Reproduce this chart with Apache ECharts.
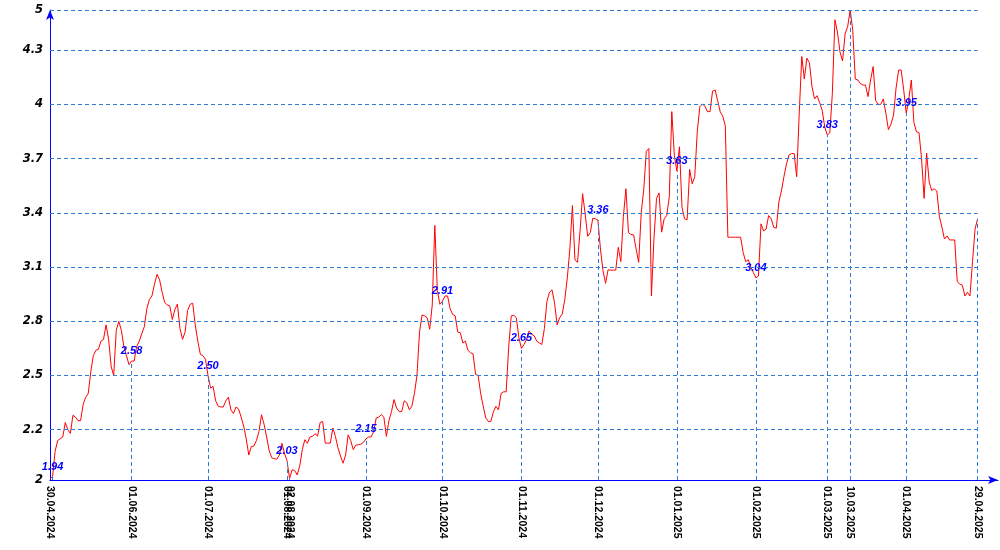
<!DOCTYPE html>
<html>
<head>
<meta charset="utf-8">
<script src="https://cdn.jsdelivr.net/npm/echarts@6/dist/echarts.min.js"></script>
<style>
html,body{margin:0;padding:0;background:#fff;}
#chart{width:1000px;height:550px;}
</style>
</head>
<body>
<div id="chart"></div>
<script>
// Day 0 of the series
const startDateUTC = Date.UTC(2024, 3, 30); // 30.04.2024

// One value per calendar day, starting 30.04.2024, ending 29.04.2025
const values = [
1.93,1.94,2.08,2.14,2.15,2.16,2.24,2.20,2.18,2.28,
2.27,2.25,2.25,2.34,2.38,2.40,2.52,2.61,2.64,2.645,
2.69,2.70,2.78,2.70,2.55,2.50,2.75,2.80,2.75,2.66,
2.61,2.56,2.58,2.58,2.66,2.69,2.73,2.77,2.87,2.92,
2.94,3.005,3.06,3.03,2.96,2.905,2.89,2.885,2.81,2.865,
2.895,2.76,2.70,2.74,2.86,2.894,2.90,2.78,2.69,2.617,
2.61,2.59,2.50,2.43,2.44,2.36,2.33,2.326,2.326,2.36,
2.38,2.31,2.29,2.326,2.315,2.27,2.22,2.15,2.06,2.107,
2.11,2.14,2.19,2.283,2.23,2.16,2.085,2.045,2.04,2.037,
2.06,2.125,2.07,2.03,1.93,1.978,1.975,1.95,2.0,2.09,
2.145,2.125,2.16,2.163,2.178,2.165,2.24,2.246,2.126,2.126,
2.126,2.21,2.163,2.10,2.055,2.015,2.06,2.172,2.14,2.09,
2.115,2.117,2.12,2.13,2.15,2.16,2.16,2.19,2.265,2.27,
2.283,2.27,2.163,2.25,2.30,2.367,2.32,2.30,2.30,2.36,
2.35,2.31,2.33,2.40,2.50,2.74,2.835,2.83,2.82,2.756,
2.89,3.33,2.97,2.894,2.91,2.94,2.94,2.87,2.838,2.83,
2.74,2.737,2.68,2.69,2.64,2.626,2.62,2.506,2.50,2.40,
2.33,2.265,2.246,2.246,2.30,2.33,2.31,2.40,2.41,2.41,
2.66,2.83,2.833,2.82,2.709,2.65,2.672,2.70,2.746,2.728,
2.72,2.69,2.68,2.672,2.76,2.91,2.96,2.974,2.90,2.78,
2.82,2.84,2.92,3.04,3.20,3.44,3.14,3.126,3.30,3.506,
3.394,3.27,3.29,3.37,3.367,3.36,3.20,3.08,3.01,3.085,
3.083,3.083,3.083,3.209,3.13,3.38,3.533,3.29,3.28,3.278,
3.20,3.126,3.40,3.53,3.74,3.756,2.94,3.256,3.48,3.51,
3.293,3.367,3.385,3.487,3.96,3.718,3.63,3.765,3.43,3.367,
3.361,3.64,3.56,3.60,3.85,3.987,4.002,3.99,3.96,3.96,
4.074,4.08,4.02,3.959,3.935,3.88,3.265,3.265,3.265,3.265,
3.265,3.265,3.18,3.13,3.14,3.10,3.07,3.04,3.05,3.339,
3.30,3.31,3.385,3.367,3.32,3.315,3.459,3.52,3.60,3.67,
3.72,3.728,3.728,3.60,3.95,4.265,4.14,4.256,4.23,4.10,
4.03,4.048,4.01,3.968,3.876,3.83,3.843,4.06,4.468,4.40,
4.29,4.24,4.39,4.43,4.522,4.41,4.14,4.135,4.115,4.107,
4.107,4.043,4.135,4.209,4.02,4.0,4.0,4.03,3.95,3.86,
3.89,3.94,4.09,4.19,4.19,4.08,3.95,4.03,4.135,3.90,
3.848,3.844,3.70,3.48,3.73,3.57,3.524,3.533,3.52,3.38,
3.32,3.255,3.272,3.25,3.25,3.25,3.02,3.006,3.00,2.94,
2.96,2.94,3.13,3.31,3.367
];

// Axis settings / tick labels
const yMin = 1.922, yMax = 4.522;
const yTickValues = [1.922, 2.2, 2.5, 2.8, 3.1, 3.4, 3.7, 4, 4.3, 4.522];
const yTickLabels = ['2', '2.2', '2.5', '2.8', '3.1', '3.4', '3.7', '4', '4.3', '5'];
const xTickDays = [0, 1, 32, 62, 93, 94, 124, 154, 185, 215, 246, 277, 305, 314, 336, 364];
const labelDays = [1, 32, 62, 93, 124, 154, 185, 215, 246, 277, 305, 336];
const lastDay = values.length - 1;

function fmtDate(d) {
  const dt = new Date(startDateUTC + Math.round(d) * 86400000);
  const dd = String(dt.getUTCDate()).padStart(2, '0');
  const mm = String(dt.getUTCMonth() + 1).padStart(2, '0');
  return dd + '.' + mm + '.' + dt.getUTCFullYear();
}

const gridColor = '#2f7bd6';
const dashStyle = { color: gridColor, type: [4, 3], width: 1 };

const hLines = yTickValues.slice(1).map(v => [{ coord: [0, v] }, { coord: [lastDay, v] }]);
const vLines = xTickDays.filter(d => d > 0).map(d => [{ coord: [d, yMin] }, { coord: [d, values[d]] }]);

const chart = echarts.init(document.getElementById('chart'), null, { renderer: 'canvas' });
chart.setOption({
  animation: false,
  backgroundColor: '#ffffff',
  grid: { left: 50, right: 2, top: 10, bottom: 70, containLabel: false },
  xAxis: {
    type: 'value',
    min: 0,
    max: 372,
    axisLine: { show: true, lineStyle: { color: '#0000ff', width: 1 }, symbol: ['none', 'arrow'], symbolSize: [6, 10] },
    axisTick: { show: false },
    splitLine: { show: false },
    axisLabel: {
      customValues: xTickDays,
      showMinLabel: true,
      showMaxLabel: true,
      rotate: -90,
      margin: 6,
      formatter: v => fmtDate(v),
      fontFamily: 'Liberation Sans',
      fontWeight: 'bold',
      fontSize: 10.5,
      color: '#000'
    }
  },
  yAxis: {
    type: 'value',
    min: yMin,
    max: yMax,
    axisLine: { show: true, lineStyle: { color: '#0000ff', width: 1 }, symbol: ['none', 'arrow'], symbolSize: [6, 10] },
    axisTick: { show: false },
    splitLine: { show: false },
    axisLabel: {
      customValues: yTickValues,
      showMinLabel: true,
      showMaxLabel: true,
      margin: 7,
      formatter: v => {
        const i = yTickValues.findIndex(t => Math.abs(t - v) < 1e-6);
        return i >= 0 ? yTickLabels[i] : '';
      },
      fontFamily: 'DejaVu Sans',
      fontWeight: 'bold',
      fontStyle: 'italic',
      fontSize: 11.5,
      color: '#000'
    }
  },
  series: [
    {
      type: 'scatter',
      data: labelDays.map(d => [d, values[d]]),
      symbol: 'circle',
      symbolSize: 1,
      itemStyle: { color: '#0000ff', opacity: 0 },
      silent: true,
      z: 4,
      label: {
        show: true,
        position: 'top',
        distance: 4,
        formatter: p => p.value[1].toFixed(2),
        fontFamily: 'Liberation Sans',
        fontWeight: 'bold',
        fontStyle: 'italic',
        fontSize: 11,
        color: '#0000ff',
        opacity: 1
      },
      markLine: {
        silent: true,
        symbol: ['none', 'none'],
        label: { show: false },
        lineStyle: dashStyle,
        emphasis: { disabled: true },
        data: hLines.concat(vLines)
      }
    },
    {
      type: 'line',
      data: values.map((v, i) => [i, v]),
      showSymbol: false,
      symbol: 'none',
      silent: true,
      z: 3,
      lineStyle: { color: '#ff0000', width: 1 },
      itemStyle: { color: '#ff0000' }
    }
  ]
});
</script>
</body>
</html>
